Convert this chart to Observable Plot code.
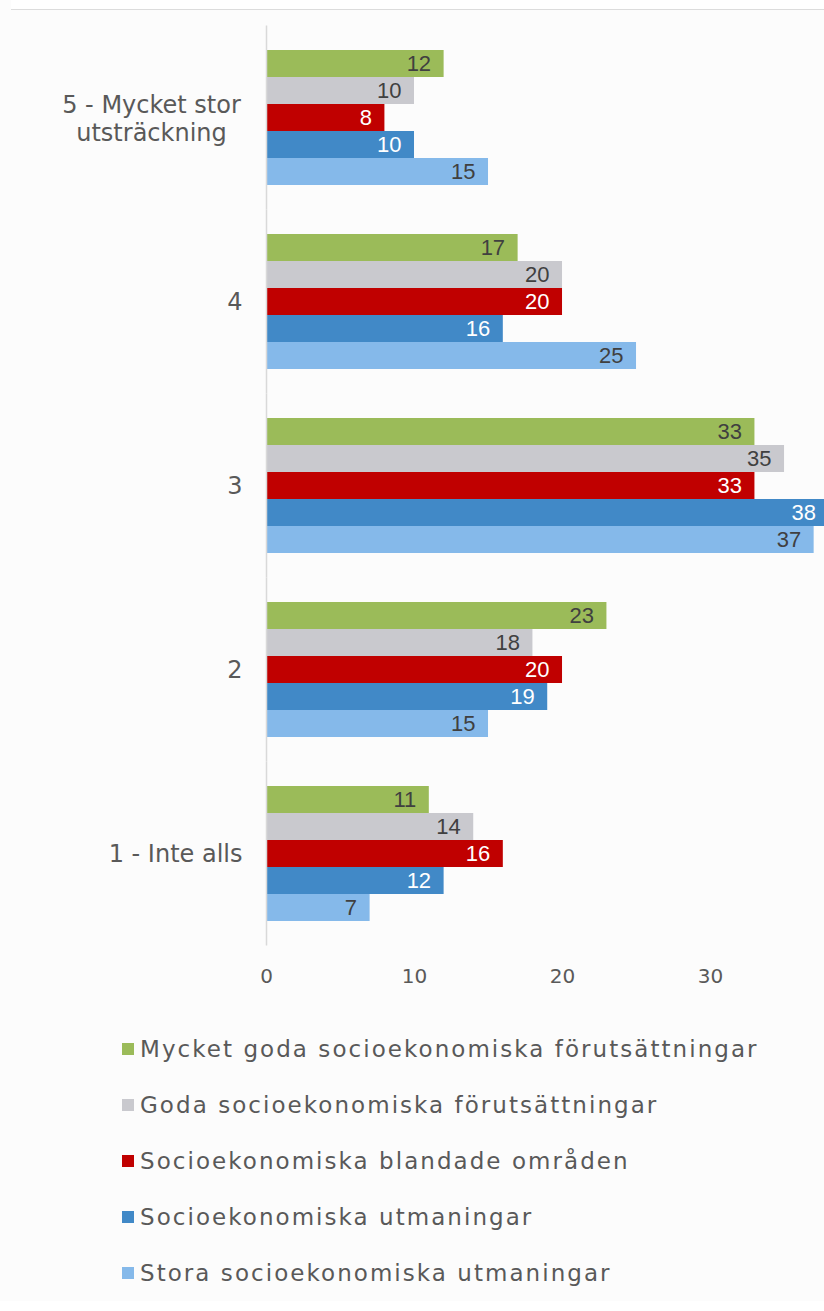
<!DOCTYPE html>
<html>
<head>
<meta charset="utf-8">
<script src="https://cdn.jsdelivr.net/npm/d3@7"></script>
<script src="https://cdn.jsdelivr.net/npm/@observablehq/plot@0.6"></script>
<style>
  html, body { margin: 0; padding: 0; background: #ffffff; }
  #wrap { width: 824px; background: #fcfcfc; }
  #topline { height: 9px; margin-left: 11px; border-bottom: 1px solid #dcdcdc; background: #fff; }
  #legend { margin-top: 11px; padding-left: 122px; font-family: "DejaVu Sans", sans-serif; font-size: 23px; letter-spacing: 2.05px; color: #595959; }
  .row { height: 56px; display: flex; align-items: center; }
  .sw { width: 12px; height: 12px; margin-right: 6px; flex: none; }
  svg { display: block; }
  g[aria-label="ylabels"] text { letter-spacing: 1px; }
</style>
</head>
<body>
<div id="wrap">
  <div id="topline"></div>
  <div id="chart"></div>
  <div id="legend"></div>
</div>
<script>
const categories = ["5 - Mycket stor\nutsträckning", "4", "3", "2", "1 - Inte alls"];
const series = [
  "Mycket goda socioekonomiska förutsättningar",
  "Goda socioekonomiska förutsättningar",
  "Socioekonomiska blandade områden",
  "Socioekonomiska utmaningar",
  "Stora socioekonomiska utmaningar"
];
const colors = ["#9bbb59", "#c9c9ce", "#c00000", "#4189c7", "#85b9ea"];
const labelColors = ["#404040", "#404040", "#ffffff", "#ffffff", "#404040"];
// values[seriesIndex][categoryIndex]
const values = [
  [12, 17, 33, 23, 11],
  [10, 20, 35, 18, 14],
  [8, 20, 33, 20, 16],
  [10, 16, 38, 19, 12],
  [15, 25, 37, 15, 7]
];
const xTicks = [0, 10, 20, 30];

const data = [];
series.forEach((s, si) => categories.forEach((c, ci) => {
  data.push({cat: c, series: s, value: values[si][ci], color: colors[si], lc: labelColors[si]});
}));

const plot = Plot.plot({
  width: 824,
  height: 1000,
  marginLeft: 266,
  marginRight: 0,
  marginTop: 15,
  marginBottom: 64,
  style: {background: "transparent", fontFamily: "DejaVu Sans, sans-serif", color: "#595959"},
  x: {domain: [0, 37.7], axis: null},
  y: {domain: series, padding: 0, axis: null},
  fy: {domain: categories, range: [40, 911], paddingInner: 0.2663, paddingOuter: 0, round: false, axis: null, label: null},
  color: {type: "identity"},
  marks: [
    Plot.barX(data, {fy: "cat", y: "series", x: "value", fill: "color", clip: true}),
    Plot.ruleX([0], {stroke: "#d9d9d9", strokeWidth: 1.5, insetTop: -24.5, insetBottom: -24.5}),
    Plot.text(data, {fy: "cat", y: "series", x: "value", text: d => String(d.value), fill: "lc",
      textAnchor: "end", dx: -13, fontSize: 22, fontFamily: "Liberation Sans Narrow, sans-serif"}),
    Plot.text(categories.slice(1), {fy: d => d, text: d => d, frameAnchor: "left", textAnchor: "end",
      dx: -24, fontSize: 24, fill: "#595959", ariaLabel: "ylabels"}),
    Plot.text(categories.slice(0, 1), {fy: d => d, text: d => d, frameAnchor: "left", textAnchor: "middle",
      dx: -115, fontSize: 24, lineHeight: 1.15, fill: "#595959", ariaLabel: "ylabels"}),
    Plot.axisX({ticks: xTicks, tickSize: 0, tickPadding: 47, fontSize: 20, color: "#595959", label: null, facetAnchor: "bottom"})
  ]
});
document.getElementById("chart").appendChild(plot);

const legend = document.getElementById("legend");
series.forEach((s, i) => {
  const row = document.createElement("div");
  row.className = "row";
  const sw = document.createElement("span");
  sw.className = "sw";
  sw.style.background = colors[i];
  const t = document.createElement("span");
  t.textContent = s;
  row.appendChild(sw);
  row.appendChild(t);
  legend.appendChild(row);
});
</script>
</body>
</html>
